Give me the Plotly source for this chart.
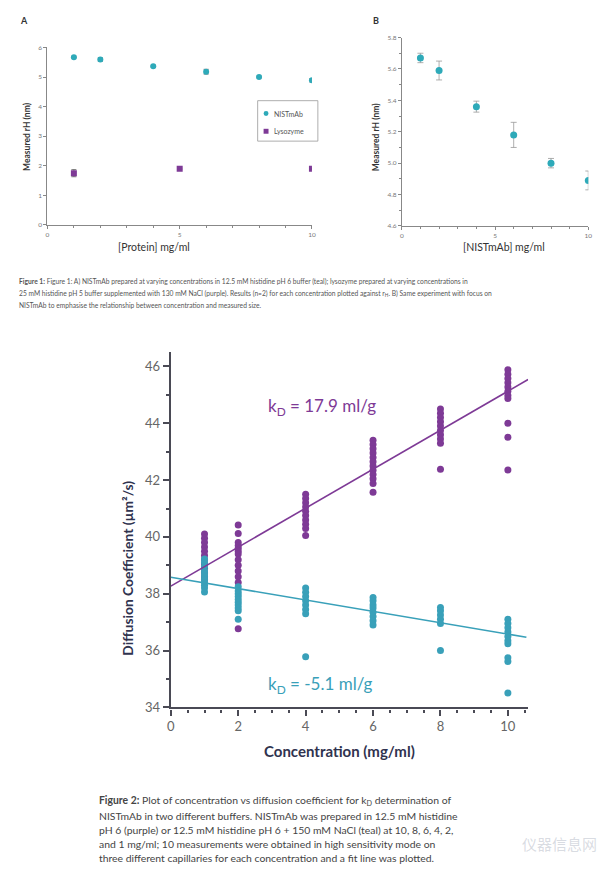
import plotly.graph_objects as go

W, H = 616, 892

# ---------------- data ----------------
# Figure 1 (A, B)
conc_mab = [1, 2, 4, 6, 8, 10]
rh_mab = [5.67, 5.59, 5.36, 5.18, 5.00, 4.89]
rh_mab_err = [0.03, 0.06, 0.035, 0.08, 0.03, 0.06]
conc_lyso = [1, 5, 10]
rh_lyso = [1.75, 1.90, 1.90]
rh_lyso_err = [0.12, 0.02, 0.02]
legend_names = ["NISTmAb", "Lysozyme"]

# Figure 2 diffusion coefficients (um^2/s)
conc_levels = [1, 2, 4, 6, 8, 10]
purple_c1 = [40.1, 39.95, 39.8, 39.65, 39.5, 39.35, 39.2, 39.05, 38.9, 38.75, 38.6, 38.5]
purple_c2 = [40.42, 40.12, 39.8, 39.7, 39.6, 39.5, 39.4, 39.2, 39.0, 38.8, 38.6, 38.4, 36.77]
purple_c4 = [41.5, 41.35, 41.2, 41.05, 40.9, 40.75, 40.6, 40.45, 40.3, 40.05]
purple_c6 = [43.4, 43.25, 43.1, 42.95, 42.8, 42.65, 42.5, 42.35, 42.2, 42.05, 41.88, 41.57]
purple_c8 = [44.5, 44.35, 44.2, 44.05, 43.9, 43.75, 43.6, 43.45, 43.3, 42.38]
purple_c10 = [45.88, 45.73, 45.58, 45.43, 45.28, 45.13, 44.98, 44.87, 44.0, 43.51, 42.36]
teal_c1 = [39.22, 39.1, 38.95, 38.8, 38.7, 38.6, 38.5, 38.4, 38.3, 38.2, 38.06]
teal_c2 = [38.25, 38.1, 38.0, 37.9, 37.8, 37.7, 37.6, 37.5, 37.4, 37.1]
teal_c4 = [38.2, 38.05, 37.9, 37.75, 37.6, 37.45, 37.3, 35.78]
teal_c6 = [37.87, 37.75, 37.6, 37.5, 37.35, 37.2, 37.05, 36.9]
teal_c8 = [37.52, 37.4, 37.25, 37.1, 36.95, 36.0]
teal_c10 = [37.1, 36.95, 36.8, 36.65, 36.5, 36.35, 36.24, 35.75, 35.62, 34.51]
purple_fit_x = [0, 10.6]
purple_fit_y = [38.27, 45.54]
teal_fit_x = [0, 10.55]
teal_fit_y = [38.58, 36.47]

PURPLE = "#7e3a96"
TEAL = "#39a0b9"
TEAL_A = "#2eaab9"


def px(x):
    return x / W


def py(y):
    return 1 - y / H


purple_sets = [purple_c1, purple_c2, purple_c4, purple_c6, purple_c8, purple_c10]
teal_sets = [teal_c1, teal_c2, teal_c4, teal_c6, teal_c8, teal_c10]
px_x, px_y, tx_x, tx_y = [], [], [], []
for c, vals in zip(conc_levels, purple_sets):
    px_x += [c] * len(vals)
    px_y += vals
for c, vals in zip(conc_levels, teal_sets):
    tx_x += [c] * len(vals)
    tx_y += vals

fig = go.Figure()

# ---- Panel A ----
fig.add_trace(go.Scatter(
    x=conc_mab, y=rh_mab, mode="markers", name=legend_names[0],
    marker=dict(color=TEAL_A, size=6, symbol="circle"),
    error_y=dict(type="data", array=rh_mab_err, color="#555", thickness=0.8, width=2.5),
    xaxis="x", yaxis="y", showlegend=False))
fig.add_trace(go.Scatter(
    x=conc_lyso, y=rh_lyso, mode="markers", name=legend_names[1],
    marker=dict(color=PURPLE, size=6, symbol="square"),
    error_y=dict(type="data", array=rh_lyso_err, color="#555", thickness=0.8, width=2.5),
    xaxis="x", yaxis="y", showlegend=False))

# ---- Panel B ----
fig.add_trace(go.Scatter(
    x=conc_mab, y=rh_mab, mode="markers", name="NISTmAb",
    marker=dict(color=TEAL_A, size=7),
    error_y=dict(type="data", array=rh_mab_err, color="#999", thickness=0.8, width=3),
    xaxis="x2", yaxis="y2", showlegend=False))

# ---- Figure 2 ----
fig.add_trace(go.Scatter(
    x=px_x, y=px_y, mode="markers", marker=dict(color=PURPLE, size=7),
    xaxis="x3", yaxis="y3", showlegend=False))
fig.add_trace(go.Scatter(
    x=tx_x, y=tx_y, mode="markers", marker=dict(color=TEAL, size=7),
    xaxis="x3", yaxis="y3", showlegend=False))
fig.add_trace(go.Scatter(
    x=purple_fit_x, y=purple_fit_y, mode="lines", line=dict(color=PURPLE, width=1.6),
    xaxis="x3", yaxis="y3", showlegend=False))
fig.add_trace(go.Scatter(
    x=teal_fit_x, y=teal_fit_y, mode="lines", line=dict(color=TEAL, width=1.6),
    xaxis="x3", yaxis="y3", showlegend=False))

small_ax = dict(showgrid=False, zeroline=False, showline=True, linecolor="#888",
                linewidth=1, ticks="outside", ticklen=3, tickcolor="#888", tickwidth=1,
                tickfont=dict(size=6.5, color="#777", family="Lato"))
big_ax = dict(showgrid=False, zeroline=False, showline=True, linecolor="#4a4a55",
              linewidth=2.2, ticks="outside", ticklen=6, tickcolor="#4a4a55", tickwidth=2,
              tickfont=dict(size=13, color="#666", family="Lato"))

fig.update_layout(
    width=W, height=H, margin=dict(l=0, r=0, t=0, b=0),
    paper_bgcolor="white", plot_bgcolor="white",
    font=dict(family="Lato"), showlegend=False,
    xaxis=dict(**small_ax, domain=[px(44), px(312)], range=[0, 10], anchor="y",
               tickvals=[0, 5, 10], minor=dict(dtick=1, ticklen=2, tickcolor="#888")),
    yaxis=dict(**small_ax, domain=[py(224), py(44)], range=[0, 6], anchor="x",
               tickvals=[0, 1, 2, 3, 4, 5, 6]),
    xaxis2=dict(**small_ax, domain=[px(403), px(592)], range=[0, 10], anchor="y2",
                tickvals=[0, 5, 10], minor=dict(dtick=1, ticklen=2, tickcolor="#888")),
    yaxis2=dict(**small_ax, domain=[py(225), py(34)], range=[4.6, 5.8], anchor="x2",
                tickvals=[4.6, 4.8, 5.0, 5.2, 5.4, 5.6, 5.8], tickformat=".1f",
                minor=dict(dtick=0.1, ticklen=2, tickcolor="#888")),
    xaxis3=dict(**big_ax, domain=[px(169), px(531)], range=[0, 10.6], anchor="y3",
                tickvals=[0, 2, 4, 6, 8, 10],
                minor=dict(dtick=0.5, ticklen=3, tickcolor="#4a4a55", tickwidth=1.5)),
    yaxis3=dict(**big_ax, domain=[py(713), py(353)], range=[34, 46.5], anchor="x3",
                tickvals=[34, 36, 38, 40, 42, 44, 46],
                minor=dict(dtick=1, ticklen=3, tickcolor="#4a4a55", tickwidth=1.5)),
)

# manual compact legend for panel A
shapes = [
    dict(type="rect", xref="paper", yref="paper", x0=px(257), x1=px(318),
         y0=py(139), y1=py(98), line=dict(color="#999", width=0.8), fillcolor="white"),
    dict(type="circle", xref="paper", yref="paper", x0=px(263), x1=px(268),
         y0=py(113.5), y1=py(108.5), line=dict(width=0), fillcolor=TEAL_A),
    dict(type="rect", xref="paper", yref="paper", x0=px(263), x1=px(268),
         y0=py(131.5), y1=py(126.5), line=dict(width=0), fillcolor=PURPLE),
]

ann = []


def add(text, x, y, size, color, xanchor="left", yanchor="middle", angle=0, family="Lato"):
    ann.append(dict(text=text, x=px(x), y=py(y), xref="paper", yref="paper",
                    xanchor=xanchor, yanchor=yanchor, showarrow=False, textangle=angle,
                    font=dict(size=size, color=color, family=family)))


add(legend_names[0], 272, 111, 7, "#555")
add(legend_names[1], 272, 129, 7, "#555")

# Figure 1 labels
add("<b>A</b>", 14, 17, 9, "#333")
add("<b>B</b>", 372, 17, 9, "#333")
add("<b>Measured rH (nm)</b>", 23, 134, 8.5, "#333", xanchor="center", angle=-90)
add("[Protein] mg/ml", 152, 246, 10.5, "#333", xanchor="center")
add("<b>Measured rH (nm)</b>", 377, 135, 8.5, "#333", xanchor="center", angle=-90)
add("[NISTmAb] mg/ml", 507, 246, 10.5, "#333", xanchor="center")

cap1 = [
    "<b>Figure 1:</b> Figure 1: A) NISTmAb prepared at varying concentrations in 12.5 mM histidine pH 6 buffer (teal); lysozyme prepared at varying concentrations in",
    "25 mM histidine pH 5 buffer supplemented with 130 mM NaCl (purple). Results (n=2) for each concentration plotted against r<sub>H</sub>. B) Same experiment with focus on",
    "NISTmAb to emphasise the relationship between concentration and measured size.",
]
for i, line in enumerate(cap1):
    add(line, 13, 281 + 12 * i, 6.7, "#555")

# Figure 2 labels
NAVY = "#30334f"
add("<b>Diffusion Coefficient (µm²/s)</b>", 125, 572, 13.8, NAVY, xanchor="center", angle=-90)
add("<b>Concentration (mg/ml)</b>", 340, 757, 15, NAVY, xanchor="center")
add("k<sub>D</sub> = 17.9 ml/g", 265, 409, 17, PURPLE)
add("k<sub>D</sub> = -5.1 ml/g", 265, 690, 17, TEAL)

cap2 = [
    "<b>Figure 2:</b> Plot of concentration vs diffusion coefficient for k<sub>D</sub> determination of",
    "NISTmAb in two different buffers. NISTmAb was prepared in 12.5 mM histidine",
    "pH 6 (purple) or 12.5 mM histidine pH 6 + 150 mM NaCl (teal) at 10, 8, 6, 4, 2,",
    "and 1 mg/ml; 10 measurements were obtained in high sensitivity mode on",
    "three different capillaries for each concentration and a fit line was plotted.",
]
cap2_y = [808, 823, 837, 851, 866]
for line, yy in zip(cap2, cap2_y):
    add(line, 94, yy, 10.4, "#444")

add("仪器信息网", 603, 851, 15, "rgba(170,175,190,0.45)", xanchor="right",
    family="Noto Sans CJK SC")

fig.update_layout(annotations=ann, shapes=shapes)
fig.write_html("out.html")
